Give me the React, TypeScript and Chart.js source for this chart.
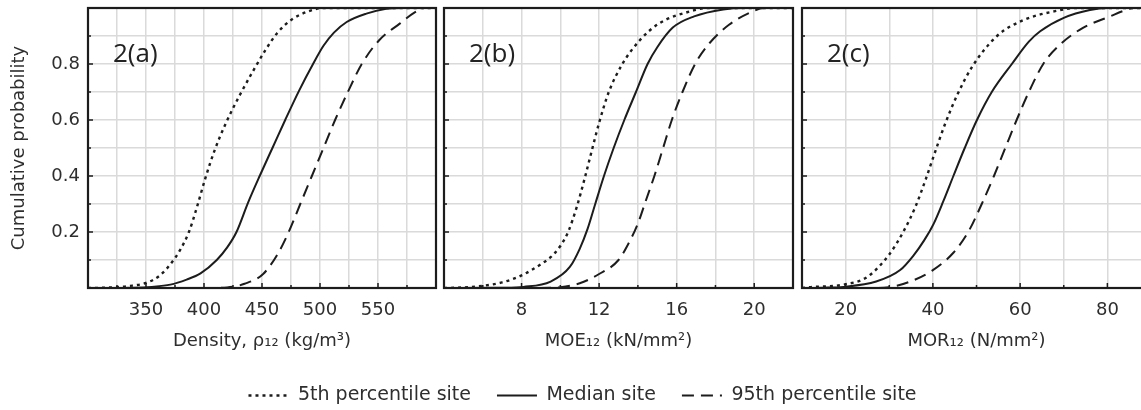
import { useEffect, useRef } from 'react';
import { Chart, registerables } from 'chart.js';

Chart.register(...registerables);

// ---------- data ----------
const seriesNames = ['5th percentile site', 'Median site', '95th percentile site'];

const yTickLabels = [0.2, 0.4, 0.6, 0.8];

const densityTickLabels = [350, 400, 450, 500, 550];
const moeTickLabels = [8, 12, 16, 20];
const morTickLabels = [20, 40, 60, 80];

const densityP5: [number, number][] = [
  [300, 0], [320, 0.002], [335, 0.007], [350, 0.018], [362, 0.045], [372, 0.09], [380, 0.14],
  [387, 0.2], [394, 0.29], [401, 0.39], [409, 0.49], [419, 0.59], [431, 0.69], [443, 0.78],
  [453, 0.85], [463, 0.91], [476, 0.96], [490, 0.988], [503, 1], [600, 1],
];
const densityMedian: [number, number][] = [
  [300, 0], [340, 0.001], [355, 0.004], [371, 0.012], [385, 0.03], [397, 0.052], [411, 0.1],
  [420, 0.145], [428, 0.2], [438, 0.305], [448, 0.4], [459, 0.5], [470, 0.6], [482, 0.705],
  [494, 0.8], [503, 0.865], [512, 0.912], [523, 0.95], [540, 0.98], [557, 0.997], [570, 1], [600, 1],
];
const densityP95: [number, number][] = [
  [300, 0], [400, 0], [420, 0.002], [435, 0.015], [451, 0.05], [464, 0.125], [473, 0.2],
  [483, 0.3], [493, 0.4], [503, 0.5], [513, 0.6], [524, 0.7], [536, 0.8], [551, 0.885],
  [569, 0.945], [582, 0.985], [590, 1], [600, 1],
];

const moeP5: [number, number][] = [
  [4, 0], [5, 0.002], [6, 0.008], [7, 0.02], [8, 0.045], [9, 0.085], [9.5, 0.11], [10, 0.15],
  [10.4, 0.2], [10.85, 0.29], [11.25, 0.39], [11.62, 0.49], [12.0, 0.59], [12.5, 0.7], [13.2, 0.8],
  [14.1, 0.885], [15.1, 0.945], [16.7, 0.988], [17.6, 1], [22, 1],
];
const moeMedian: [number, number][] = [
  [4, 0], [7, 0.001], [8.1, 0.004], [9.5, 0.023], [10.5, 0.076], [11, 0.14], [11.4, 0.21],
  [11.8, 0.3], [12.25, 0.4], [12.75, 0.5], [13.3, 0.6], [13.9, 0.7], [14.5, 0.8], [15.0, 0.86],
  [15.8, 0.93], [16.9, 0.97], [18.4, 0.995], [19.5, 1], [22, 1],
];
const moeP95: [number, number][] = [
  [4, 0], [9, 0], [10, 0.003], [11, 0.017], [12, 0.05], [13.0, 0.1], [13.6, 0.17], [14.0, 0.23],
  [14.4, 0.31], [14.85, 0.4], [15.3, 0.5], [15.75, 0.6], [16.3, 0.7], [16.95, 0.8], [17.7, 0.875],
  [18.7, 0.94], [19.9, 0.987], [20.5, 1], [22, 1],
];

const morP5: [number, number][] = [
  [10, 0], [12, 0.003], [19.5, 0.012], [25, 0.04], [30, 0.12], [33.2, 0.2], [36, 0.29],
  [38.4, 0.39], [40.6, 0.49], [42.9, 0.59], [45.6, 0.69], [49, 0.79], [54.7, 0.9], [60.8, 0.957],
  [68.4, 0.99], [73, 1], [90, 1],
];
const morMedian: [number, number][] = [
  [10, 0], [15, 0.001], [19.5, 0.004], [27, 0.023], [32.5, 0.064], [35.5, 0.115], [38, 0.17],
  [40.2, 0.23], [42.4, 0.31], [44.7, 0.4], [47.3, 0.5], [50.1, 0.6], [53.5, 0.7], [58.1, 0.8],
  [62, 0.88], [64.6, 0.917], [70, 0.965], [76, 0.993], [80, 1], [90, 1],
];
const morP95: [number, number][] = [
  [10, 0], [25, 0], [30, 0.003], [34.8, 0.023], [40, 0.064], [44.7, 0.126], [48.1, 0.2],
  [51.2, 0.3], [54, 0.4], [56.6, 0.5], [59.2, 0.6], [62, 0.7], [65.3, 0.8], [69.2, 0.87],
  [74.5, 0.93], [80.6, 0.97], [83.7, 0.99], [86, 1], [90, 1],
];

// ---------- styles ----------
const FONT = '"DejaVu Sans", sans-serif';
const INK = '#1c1c1c';
const TEXT = '#2e2e2e';
const GRID = '#dadada';
const DASHES = [[3, 4], [], [12, 7]];
const WIDTHS = [2.4, 2, 2];

type Panel = {
  label: string;
  title: string;
  min: number;
  max: number;
  step: number;
  tickLabels: number[];
  series: [number, number][][];
  showY: boolean;
  left: number;
  width: number;
  padLeft: number;
};

const panels: Panel[] = [
  { label: '2(a)', title: 'Density, ρ₁₂ (kg/m³)', min: 300, max: 600, step: 25, tickLabels: densityTickLabels,
    series: [densityP5, densityMedian, densityP95], showY: true, left: 0, width: 440, padLeft: 0 },
  { label: '2(b)', title: 'MOE₁₂ (kN/mm²)', min: 4, max: 22, step: 2, tickLabels: moeTickLabels,
    series: [moeP5, moeMedian, moeP95], showY: false, left: 440, width: 357, padLeft: 4 },
  { label: '2(c)', title: 'MOR₁₂ (N/mm²)', min: 10, max: 90, step: 10, tickLabels: morTickLabels,
    series: [morP5, morMedian, morP95], showY: false, left: 798, width: 357, padLeft: 4 },
];

const has = (arr: number[], v: number) => arr.some((m) => Math.abs(m - v) < 1e-6);

const framePlugin = {
  id: 'frame',
  afterDatasetsDraw(chart: any, _args: any, opts: any) {
    const { ctx, chartArea: a, scales } = chart;
    const x = scales.x;
    const y = scales.y;
    ctx.save();
    ctx.strokeStyle = INK;
    ctx.lineWidth = 1.5;
    ctx.setLineDash([]);
    ctx.beginPath();
    x.ticks.forEach((t: any) => {
      const px = x.getPixelForValue(t.value);
      const len = has(opts.xMajor, t.value) ? 5 : 3;
      ctx.moveTo(px, a.bottom);
      ctx.lineTo(px, a.bottom - len);
    });
    y.ticks.forEach((t: any) => {
      const py = y.getPixelForValue(t.value);
      const len = has(yTickLabels, t.value) ? 5 : 3;
      ctx.moveTo(a.left, py);
      ctx.lineTo(a.left + len, py);
    });
    ctx.stroke();
    ctx.lineWidth = 2.2;
    ctx.strokeRect(a.left, a.top, a.right - a.left, a.bottom - a.top);
    ctx.fillStyle = '#222';
    ctx.font = '26px "Open Sans", sans-serif';
    ctx.textBaseline = 'alphabetic';
    ctx.textAlign = 'left';
    ctx.fillText(opts.label, a.left + 25, a.top + 54);
    ctx.restore();
  },
};

function PanelChart({ p }: { p: Panel }) {
  const ref = useRef<HTMLCanvasElement | null>(null);
  useEffect(() => {
    if (!ref.current) return;
    const chart = new Chart(ref.current, {
      type: 'scatter',
      data: {
        datasets: p.series.map((s, i) => ({
          label: seriesNames[i],
          data: s.map(([x, y]) => ({ x, y })),
          showLine: true,
          pointRadius: 0,
          borderColor: INK,
          backgroundColor: INK,
          borderWidth: WIDTHS[i],
          borderDash: DASHES[i],
          cubicInterpolationMode: 'monotone' as const,
          fill: false,
        })),
      },
      options: {
        responsive: false,
        animation: false,
        events: [],
        layout: { padding: { left: p.padLeft, right: 4, top: 8, bottom: 0 } },
        plugins: {
          legend: { display: false },
          tooltip: { enabled: false },
          frame: { label: p.label, xMajor: p.tickLabels },
        } as any,
        scales: {
          x: {
            type: 'linear',
            min: p.min,
            max: p.max,
            border: { display: false },
            grid: { color: GRID, lineWidth: 1.5, drawTicks: false },
            ticks: {
              stepSize: p.step,
              autoSkip: false,
              maxRotation: 0,
              padding: 12,
              color: TEXT,
              font: { family: FONT, size: 18 },
              callback: (v: any) => (has(p.tickLabels, Number(v)) ? String(v) : ''),
            },
            title: {
              display: true,
              text: p.title,
              color: TEXT,
              font: { family: FONT, size: 18 },
              padding: { top: 4, bottom: 4 },
            },
            afterFit: (s: any) => {
              s.height = 68;
              s.paddingLeft = 0;
              s.paddingRight = 0;
            },
          },
          y: {
            type: 'linear',
            min: 0,
            max: 1,
            border: { display: false },
            grid: { color: GRID, lineWidth: 1.5, drawTicks: false },
            ticks: {
              display: p.showY,
              stepSize: 0.1,
              autoSkip: false,
              padding: 8,
              color: TEXT,
              font: { family: FONT, size: 18 },
              callback: (v: any) => (has(yTickLabels, Number(v)) ? String(Number(v).toFixed(1)) : ''),
            },
            title: {
              display: p.showY,
              text: 'Cumulative probability',
              color: TEXT,
              font: { family: FONT, size: 18 },
              padding: { top: 9, bottom: 4 },
            },
            afterFit: (s: any) => {
              s.width = p.showY ? 88 : 0;
              s.paddingTop = 0;
              s.paddingBottom = 0;
            },
          },
        },
      },
      plugins: [framePlugin],
    } as any);
    return () => chart.destroy();
  }, [p]);
  return (
    <div style={{ position: 'absolute', left: p.left, top: 0, width: p.width, height: 356 }}>
      <canvas ref={ref} width={p.width} height={356} style={{ display: 'block' }} />
    </div>
  );
}

function LegendChart() {
  const ref = useRef<HTMLCanvasElement | null>(null);
  useEffect(() => {
    if (!ref.current) return;
    const chart = new Chart(ref.current, {
      type: 'line',
      data: {
        datasets: seriesNames.map((n, i) => ({
          label: n,
          data: [],
          borderColor: INK,
          backgroundColor: INK,
          borderWidth: WIDTHS[i],
          borderDash: DASHES[i],
        })),
      },
      options: {
        responsive: false,
        animation: false,
        events: [],
        scales: { x: { display: false }, y: { display: false } },
        plugins: {
          tooltip: { enabled: false },
          legend: {
            display: true,
            position: 'top',
            labels: {
              usePointStyle: true,
              pointStyle: 'line',
              pointStyleWidth: 40,
              color: TEXT,
              padding: 26,
              font: { family: FONT, size: 19 },
              generateLabels: (chart: any) =>
                chart.data.datasets.map((ds: any, i: number) => ({
                  text: ds.label,
                  datasetIndex: i,
                  hidden: false,
                  fillStyle: INK,
                  strokeStyle: INK,
                  fontColor: TEXT,
                  lineWidth: WIDTHS[i],
                  lineDash: DASHES[i],
                  lineCap: 'butt',
                  pointStyle: 'line',
                })),
            },
          },
        },
      },
    } as any);
    return () => chart.destroy();
  }, []);
  return (
    <div style={{ position: 'absolute', left: 12, top: 360, width: 1141, height: 150 }}>
      <canvas ref={ref} width={1141} height={150} style={{ display: 'block' }} />
    </div>
  );
}

export default function App() {
  return (
    <div
      style={{
        position: 'absolute',
        left: 0,
        top: 0,
        width: 1141,
        height: 410,
        overflow: 'hidden',
        background: '#fff',
      }}
    >
      {panels.map((p) => (
        <PanelChart key={p.label} p={p} />
      ))}
      <LegendChart />
    </div>
  );
}
